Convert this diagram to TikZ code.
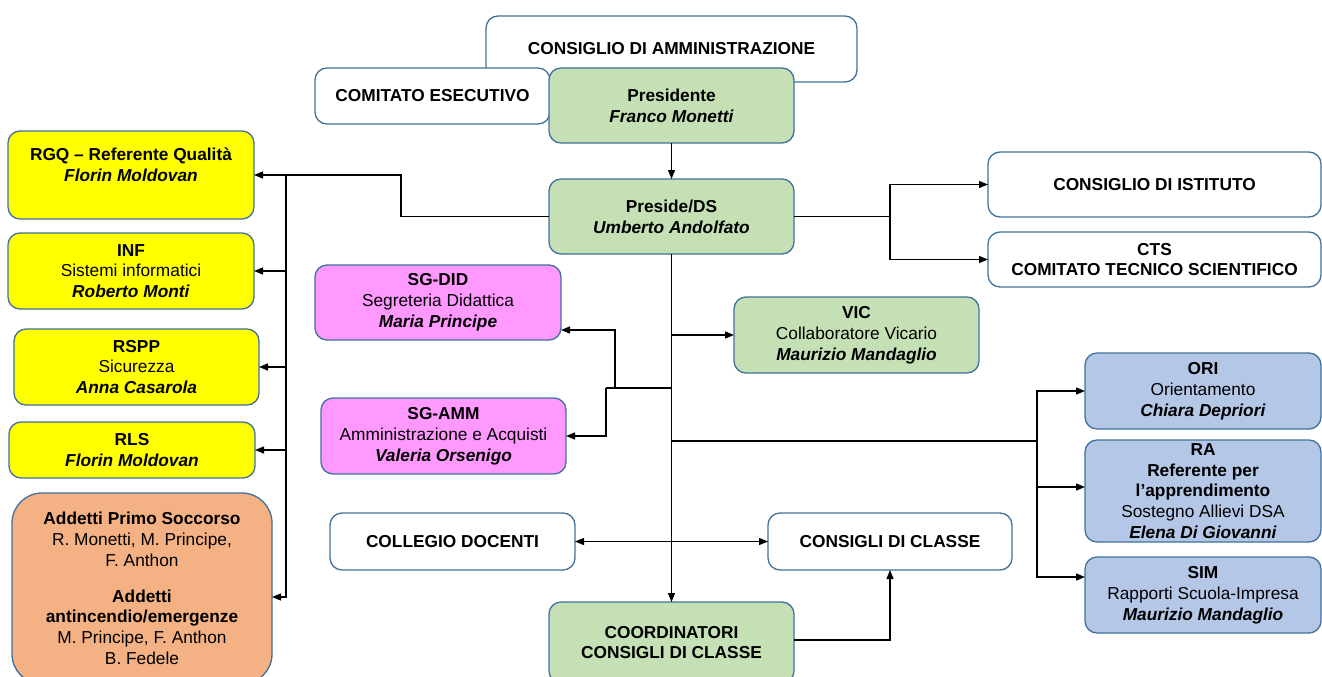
\documentclass[tikz,border=0pt]{standalone}
\usepackage{fontspec}
\setmainfont{Liberation Sans}
\usetikzlibrary{arrows.meta}
\definecolor{bordc}{HTML}{41719C}
\definecolor{gfill}{HTML}{C5E0B4}
\definecolor{yfill}{HTML}{FFFF00}
\definecolor{pfill}{HTML}{FF99FF}
\definecolor{ofill}{HTML}{F4B183}
\definecolor{bfill}{HTML}{B4C7E7}
\newcommand{\bi}[1]{\textbf{\textit{#1}}}
\begin{document}
\begin{tikzpicture}[x=1pt,y=-1pt,
  every node/.style={font=\fontsize{17.3}{20.8}\selectfont},
  orgbox/.style={draw=bordc, line width=1.3pt, rounded corners=12pt, inner sep=0pt, outer sep=0pt, align=center, anchor=north west},
  conn/.style={line width=1.3pt, draw=black},
  arr/.style={conn, -{Triangle[length=9pt,width=7pt]}},
  darr/.style={conn, {Triangle[length=9pt,width=7pt]}-{Triangle[length=9pt,width=7pt]}}]
\fill[white] (0,0) rectangle (1322,677);
\useasboundingbox (0,0) rectangle (1322,677);
\clip (0,0) rectangle (1322,677);
% top
\node[orgbox, fill=white, minimum width=371pt, minimum height=66pt] (cda) at (486,16) {\textbf{CONSIGLIO DI AMMINISTRAZIONE}};
\node[orgbox, fill=white, minimum width=235pt, minimum height=56pt] (ce) at (315,68) {\textbf{COMITATO ESECUTIVO}};
\node[orgbox, fill=gfill, minimum width=245pt, minimum height=75pt] (pres) at (549,68) {\textbf{Presidente}\\\bi{Franco Monetti}};
\node[orgbox, fill=gfill, minimum width=245pt, minimum height=75pt] (preside) at (549,179) {\textbf{Preside/DS}\\\bi{Umberto Andolfato}};
% right top
\node[orgbox, fill=white, minimum width=333pt, minimum height=65pt] (ci) at (988,152) {\textbf{CONSIGLIO DI ISTITUTO}};
\node[orgbox, fill=white, minimum width=333pt, minimum height=55pt] (cts) at (988,232) {\textbf{CTS}\\\textbf{COMITATO TECNICO SCIENTIFICO}};
% left column
\node[orgbox, fill=yfill, minimum width=246pt, minimum height=88pt] (rgq) at (8,131) {\textbf{RGQ – Referente Qualità}\\\bi{Florin Moldovan}\\\mbox{}};
\node[orgbox, fill=yfill, minimum width=246pt, minimum height=76pt] (inf) at (8,233) {\textbf{INF}\\Sistemi informatici\\\bi{Roberto Monti}};
\node[orgbox, fill=yfill, minimum width=245pt, minimum height=76pt] (rspp) at (14,329) {\textbf{RSPP}\\Sicurezza\\\bi{Anna Casarola}};
\node[orgbox, fill=yfill, minimum width=246pt, minimum height=56pt] (rls) at (9,422) {\textbf{RLS}\\\bi{Florin Moldovan}};
\node[orgbox, fill=ofill, rounded corners=30pt, minimum width=260pt, minimum height=191pt] (addetti) at (12,493) {\textbf{Addetti Primo Soccorso}\\R. Monetti, M. Principe,\\F. Anthon\\[14.7pt]\textbf{Addetti}\\\textbf{antincendio/emergenze}\\M. Principe, F. Anthon\\B. Fedele};
% middle
\node[orgbox, fill=pfill, minimum width=246pt, minimum height=75pt] (sgdid) at (315,265) {\textbf{SG-DID}\\Segreteria Didattica\\\bi{Maria Principe}};
\node[orgbox, fill=pfill, minimum width=245pt, minimum height=76pt] (sgamm) at (321,398) {\textbf{SG-AMM}\\Amministrazione e Acquisti\\\bi{Valeria Orsenigo}};
\node[orgbox, fill=gfill, minimum width=245pt, minimum height=76pt] (vic) at (734,297) {\textbf{VIC}\\Collaboratore Vicario\\\bi{Maurizio Mandaglio}};
% right column
\node[orgbox, fill=bfill, minimum width=236pt, minimum height=76pt] (ori) at (1085,353) {\textbf{ORI}\\Orientamento\\\bi{Chiara Depriori}};
\node[orgbox, fill=bfill, minimum width=236pt, minimum height=102pt] (ra) at (1085,440) {\textbf{RA}\\\textbf{Referente per}\\\textbf{l’apprendimento}\\Sostegno Allievi DSA\\\bi{Elena Di Giovanni}};
\node[orgbox, fill=bfill, minimum width=236pt, minimum height=76pt] (sim) at (1085,557) {\textbf{SIM}\\Rapporti Scuola-Impresa\\\bi{Maurizio Mandaglio}};
% bottom
\node[orgbox, fill=white, minimum width=245pt, minimum height=57pt] (collegio) at (330,513) {\textbf{COLLEGIO DOCENTI}};
\node[orgbox, fill=white, minimum width=244pt, minimum height=57pt] (consigli) at (768,513) {\textbf{CONSIGLI DI CLASSE}};
\node[orgbox, fill=gfill, minimum width=245pt, minimum height=81pt] (coord) at (549,602) {\textbf{COORDINATORI}\\\textbf{CONSIGLI DI CLASSE}};
% helper coordinates
\coordinate (bendL) at (401,0);
\coordinate (busL) at (286,0);
\coordinate (busR) at (890,0);
\coordinate (jd) at (615,388);
\coordinate (ja) at (606,388);
\coordinate (busR2) at (1037,441);
% connectors
\draw[arr] (pres.south) -- (preside.north);
\draw[arr] (preside.west) -- (preside.west -| bendL) |- (rgq.east);
\draw[arr] (rgq.east -| busL) |- ([yshift=-8.5pt]addetti.east);
\draw[arr] (inf.east -| busL) -- (inf.east);
\draw[arr] (rspp.east -| busL) -- (rspp.east);
\draw[arr] (rls.east -| busL) -- (rls.east);
\draw[conn] (preside.east) -- (preside.east -| busR);
\draw[arr] (preside.east -| busR) |- (ci.west);
\draw[arr] (preside.east -| busR) |- (cts.west);
\draw[arr] (preside.south) -- (coord.north);
\draw[conn] (preside.south |- ja) -- (ja);
\draw[arr] (jd) |- ([yshift=-27.5pt]sgdid.east);
\draw[arr] (ja) |- (sgamm.east);
\draw[arr] (preside.south |- vic.west) -- (vic.west);
\draw[conn] (preside.south |- busR2) -- (busR2);
\draw[arr] (busR2) |- (ori.west);
\draw[arr] (busR2) |- ([yshift=4pt]ra.west);
\draw[arr] (busR2) |- ([yshift=18pt]sim.west);
\draw[darr] (collegio.east) -- (consigli.west);
\draw[arr] ([yshift=2.5pt]coord.east) -| (consigli.south);
\end{tikzpicture}
\end{document}
